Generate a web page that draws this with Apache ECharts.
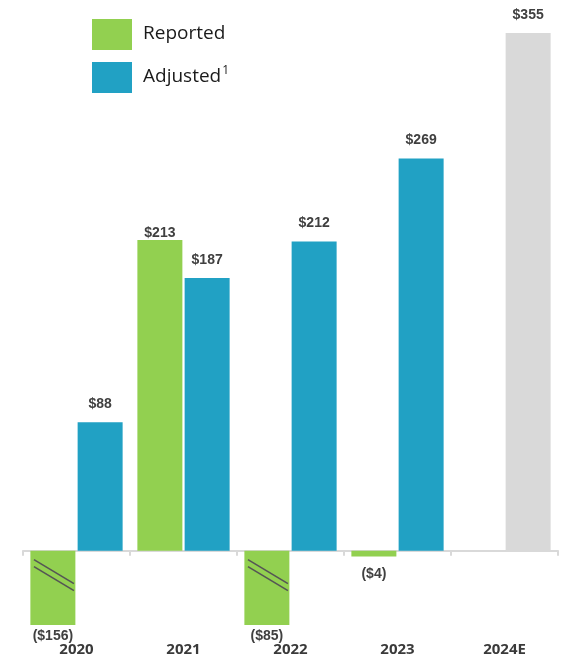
<!DOCTYPE html>
<html>
<head>
<meta charset="utf-8">
<script src="https://cdn.jsdelivr.net/npm/echarts@6/dist/echarts.min.js"></script>
<style>
  html, body { margin: 0; padding: 0; background: #ffffff; }
  #chart { width: 570px; height: 661px; }
</style>
</head>
<body>
<div id="chart"></div>
<script>
// Yearly results, reported vs. adjusted (2024 is an estimate)
const years = ['2020', '2021', '2022', '2023', '2024E'];
const reported = [-156, 213, -85, -4, null];
const adjusted = [88, 187, 212, 269, 355];
const estimateYear = '2024E';
// Negative bars too long to show in full get a break mark
const brokenBars = ['2020', '2022'];

const GREEN = '#92D050';
const BLUE = '#21A1C4';
const GREY = '#D9D9D9';
const LABEL = '#404040';

function money(v) {
  return v < 0 ? '($' + (-v) + ')' : '$' + v;
}

const labelBase = {
  show: true,
  fontFamily: 'Liberation Sans, Arial, sans-serif',
  fontWeight: 'bold',
  fontSize: 14,
  color: LABEL,
  formatter: p => money(p.value)
};

const reportedData = reported.map((v, i) => {
  if (v == null) return null;
  if (v < 0) {
    const broken = brokenBars.includes(years[i]);
    return { value: v, label: { position: 'bottom', distance: broken ? 4 : 11 } };
  }
  return { value: v, label: { position: 'top', distance: 0 } };
});

const adjustedData = adjusted.map((v, i) => {
  const item = { value: v, label: { position: 'top', distance: 11 } };
  if (years[i] === estimateYear) item.itemStyle = { color: GREY };
  return item;
});

const chart = echarts.init(document.getElementById('chart'), null, { renderer: 'canvas' });

chart.setOption({
  animation: false,
  backgroundColor: '#ffffff',
  grid: { left: 23, right: 12, top: 33, bottom: 36, containLabel: false, outerBoundsMode: 'none' },
  legend: {
    orient: 'vertical',
    left: 92,
    top: 19,
    padding: 0,
    itemWidth: 40,
    itemHeight: 31,
    itemGap: 12,
    icon: 'rect',
    formatter: name => name === 'Adjusted' ? '{t|Adjusted}{s|1}' : '{t|' + name + '}',
    textStyle: {
      padding: [0, 0, 2, 6],
      rich: {
        t: { fontFamily: 'Open Sans, Noto Sans, sans-serif', fontSize: 19, color: '#1a1a1a', lineHeight: 24 },
        s: { fontFamily: 'Open Sans, Noto Sans, sans-serif', fontSize: 12, color: '#1a1a1a', verticalAlign: 'top', lineHeight: 24, padding: [0, 0, 9, 1] }
      }
    },
    data: ['Reported', 'Adjusted']
  },
  xAxis: [
    {
      // Zero line with the category dividers
      type: 'category',
      data: years,
      axisLine: { show: true, onZero: true, lineStyle: { color: '#D9D9D9', width: 2 } },
      axisTick: { show: true, alignWithLabel: false, length: 5, lineStyle: { color: '#D9D9D9', width: 2 } },
      axisLabel: { show: false }
    },
    {
      // Year labels along the bottom of the plot
      type: 'category',
      data: years,
      position: 'bottom',
      axisLine: { show: false, onZero: false },
      axisTick: { show: false },
      axisLabel: {
        margin: 17,
        fontFamily: 'Open Sans, Noto Sans, sans-serif',
        fontWeight: 'bold',
        fontSize: 15,
        color: '#3a3a3a'
      }
    }
  ],
  yAxis: {
    type: 'value',
    min: -51,
    max: 355,
    show: false,
    splitLine: { show: false }
  },
  series: [
    {
      name: 'Reported',
      type: 'bar',
      barWidth: 45,
      barGap: '5%',
      itemStyle: { color: GREEN },
      label: labelBase,
      data: reportedData
    },
    {
      name: 'Adjusted',
      type: 'bar',
      barWidth: 45,
      barGap: '5%',
      itemStyle: { color: BLUE },
      label: labelBase,
      data: adjustedData
    },
    {
      // Break marks on the truncated negative bars
      name: 'breaks',
      type: 'custom',
      silent: true,
      z: 5,
      renderItem: (params, api) => {
        const c = api.coord([api.value(0), 0]);
        const band = api.size([1, 0])[0];
        const cx = c[0] - band * 0.22;   // centre of the left (Reported) bar
        const y0 = c[1];
        const mk = (dy) => ({
          type: 'line',
          shape: { x1: cx - 19, y1: y0 + dy, x2: cx + 21, y2: y0 + dy + 24 },
          style: { stroke: '#555555', lineWidth: 1.6 }
        });
        return { type: 'group', children: [mk(9), mk(16)] };
      },
      data: brokenBars.map(y => [y])
    }
  ]
});
</script>
</body>
</html>
